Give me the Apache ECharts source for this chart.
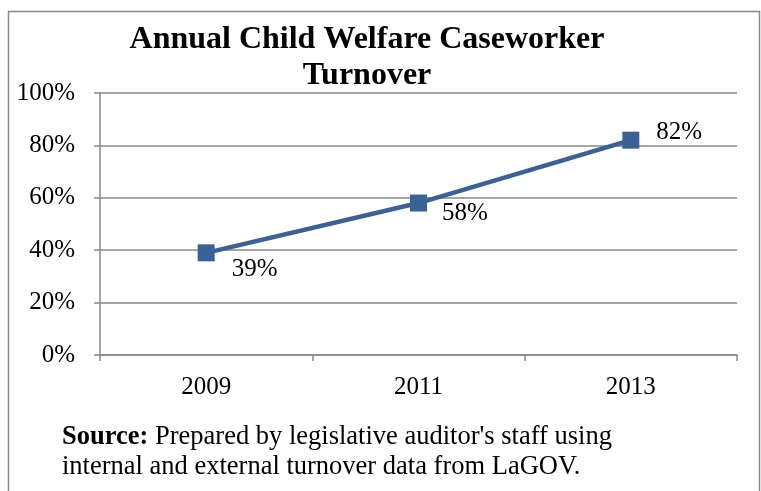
<!DOCTYPE html>
<html><head><meta charset="utf-8">
<script src="https://cdn.jsdelivr.net/npm/echarts@6/dist/echarts.min.js"></script>
<style>html,body{margin:0;padding:0;background:#fff}#c{width:761px;height:491px}</style>
</head><body><div id="c"></div>
<script>
const categories = ['2009', '2011', '2013'];
const turnover = [39, 58, 82];
const yTicks = [0, 20, 40, 60, 80, 100];
const titleText = 'Annual Child Welfare Caseworker\nTurnover';

const labelOffsets = [[12, 17], [10, 10], [12, -8]];
const chart = echarts.init(document.getElementById('c'));
const serif = '"Liberation Serif", "Times New Roman", serif';
chart.setOption({
  animation: false,
  title: {
    text: titleText, left: 362, top: 17, textAlign: 'center',
    textStyle: { fontFamily: serif, fontSize: 32, fontWeight: 'bold', color: '#000', lineHeight: 36 }
  },
  grid: { left: 100, right: 24, top: 93, bottom: 136 },
  xAxis: {
    type: 'category', data: categories, boundaryGap: true,
    axisLine: { lineStyle: { color: '#888', width: 1.5 } },
    axisTick: { show: true, length: 6, lineStyle: { color: '#888', width: 1.5 } },
    axisLabel: { fontFamily: serif, fontSize: 25, color: '#000', margin: 20 }
  },
  yAxis: {
    type: 'value', min: yTicks[0], max: yTicks[yTicks.length - 1], interval: 20,
    axisLine: { show: true, lineStyle: { color: '#888', width: 1.5 } },
    axisTick: { show: true, length: 6, lineStyle: { color: '#888', width: 1.5 } },
    splitLine: { lineStyle: { color: '#888', width: 1.5 } },
    axisLabel: { fontFamily: serif, fontSize: 25, color: '#000', margin: 25, formatter: '{value}%' }
  },
  series: [{
    type: 'line',
    data: turnover.map((v, i) => ({
      value: v,
      label: { show: true, position: 'right', offset: labelOffsets[i], formatter: v + '%',
        fontFamily: serif, fontSize: 25, color: '#000' }
    })),
    symbol: 'rect', symbolSize: 17,
    lineStyle: { color: '#3A6296', width: 4.5 },
    itemStyle: { color: '#3A6296' }
  }],
  graphic: [
    { type: 'rect', shape: { x: 8.5, y: 11.5, width: 751, height: 500 },
      style: { fill: 'none', stroke: '#888', lineWidth: 1.5 }, z: -1 },
    { type: 'text', left: 62, top: 422,
      style: { text: '{b|Source:} Prepared by legislative auditor\'s staff using\ninternal and external turnover data from LaGOV.',
        font: '26.5px ' + serif, fill: '#000', lineHeight: 30,
        rich: { b: { fontWeight: 'bold', fontFamily: serif, fontSize: 26.5, fill: '#000', lineHeight: 30 } } } }
  ]
});
</script></body></html>
